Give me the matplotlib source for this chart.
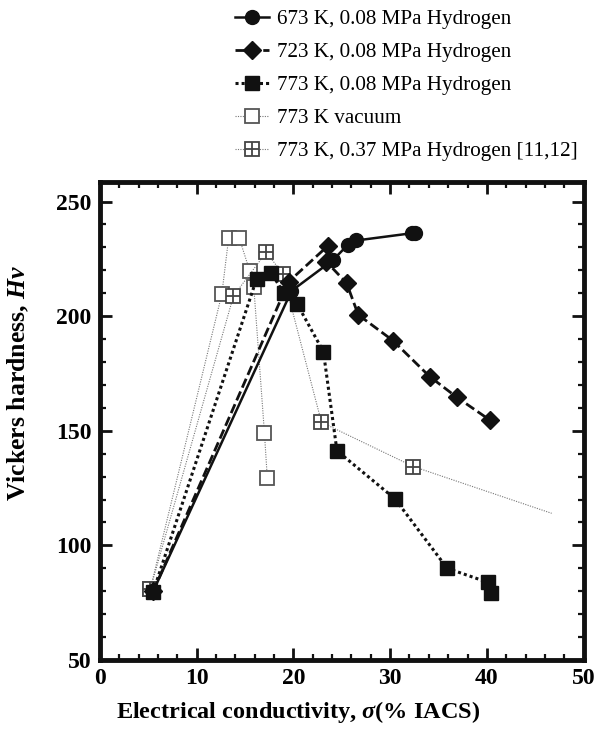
import matplotlib
matplotlib.use("Agg")
import matplotlib.pyplot as plt
from matplotlib.ticker import MultipleLocator

plt.rcParams["font.family"] = ["Liberation Serif", "DejaVu Serif"]
plt.rcParams["mathtext.fontset"] = "custom"
plt.rcParams["mathtext.it"] = "Liberation Serif:bold:italic"
plt.rcParams["mathtext.rm"] = "Liberation Serif:bold"

# 673 K, 0.08 MPa hydrogen
x_673 = [5.5, 19.8, 24.1, 25.6, 26.5, 32.3, 32.6]
y_673 = [80, 211, 224.5, 231, 233, 236.2, 236.4]
# 723 K, 0.08 MPa hydrogen
x_723 = [5.5, 19.5, 23.6, 23.4, 25.5, 26.7, 30.3, 34.1, 36.9, 40.3]
y_723 = [80, 215, 230.8, 223.8, 214.4, 200.6, 189.3, 173.6, 164.6, 154.7]
# 773 K, 0.08 MPa hydrogen
x_773 = [5.5, 16.2, 17.7, 19.0, 20.4, 23.1, 24.5, 30.5, 35.9, 40.1, 40.4]
y_773 = [79.8, 216.4, 219.0, 210.0, 205.2, 184.5, 141.3, 120.3, 90.0, 83.9, 79.1]
# 773 K vacuum
x_vac = [5.2, 12.6, 13.3, 14.4, 15.5, 15.9, 17.0, 17.3]
y_vac = [80.9, 209.7, 234.0, 234.0, 219.5, 212.9, 149.2, 129.3]
# 773 K, 0.37 MPa hydrogen [11,12]
x_ref = [5.2, 13.8, 17.2, 18.9, 22.9, 32.4, 46.7]
y_ref = [80.9, 208.8, 227.9, 218.4, 153.7, 134.4, 114.0]

labels = ["673 K, 0.08 MPa Hydrogen", "723 K, 0.08 MPa Hydrogen",
          "773 K, 0.08 MPa Hydrogen", "773 K vacuum",
          "773 K, 0.37 MPa Hydrogen [11,12]"]

fig = plt.figure(figsize=(5.97, 7.34), dpi=100)
ax = fig.add_axes([0.1675, 0.1008, 0.81, 0.6512])

grey = "#777777"
h_vac, = ax.plot(x_vac, y_vac, ls=(0, (1, 1.2)), lw=0.8, color=grey,
                 marker="s", ms=10, mfc="white", mec="#555555", mew=1.3, zorder=2)
h_ref_line, = ax.plot(x_ref, y_ref, ls=(0, (1, 1.2)), lw=0.8, color=grey,
                      marker="s", ms=10, mfc="white", mec="#444444", mew=1.3,
                      markevery=slice(0, -1), zorder=2)
h_ref_cross, = ax.plot(x_ref, y_ref, ls="none", marker="+", ms=10, mec="#444444",
                       mew=1.3, markevery=slice(0, -1), zorder=2)
h_773, = ax.plot(x_773, y_773, ls=(0, (1, 1)), lw=2.2, color="#111111",
                 marker="s", ms=10, mfc="#111111", mec="#111111", zorder=3)
h_723, = ax.plot(x_723, y_723, ls=(0, (3.5, 1.5)), lw=2.0, color="#111111",
                 marker="D", ms=9, mfc="#111111", mec="#111111", zorder=4)
h_673, = ax.plot(x_673, y_673, ls="-", lw=1.8, color="#111111",
                 marker="o", ms=10, mfc="#111111", mec="#111111", zorder=5)

ax.set_xlim(0, 50)
ax.set_ylim(50, 258.5)
ax.xaxis.set_major_locator(MultipleLocator(10))
ax.xaxis.set_minor_locator(MultipleLocator(2))
ax.yaxis.set_major_locator(MultipleLocator(50))
ax.yaxis.set_minor_locator(MultipleLocator(10))
ax.tick_params(which="both", direction="in", top=True, right=True,
               labelsize=17, pad=6, color="#111111")
ax.tick_params(which="major", length=8.5, width=2)
ax.tick_params(which="minor", length=4.5, width=1.6)
for lab in ax.get_xticklabels() + ax.get_yticklabels():
    lab.set_fontweight("bold")
for sp in ax.spines.values():
    sp.set_linewidth(3.5)
    sp.set_color("#111111")

fig.text(0.5, 0.03, r"Electrical conductivity, $\sigma$(% IACS)",
         ha="center", va="center", fontsize=17.5, fontweight="bold")
fig.text(0.03, 0.478, r"Vickers hardness, $Hv$", rotation=90,
         ha="center", va="center", fontsize=18.5, fontweight="bold")

fig.legend([h_673, h_723, h_773, h_vac, (h_ref_line, h_ref_cross)], labels,
           loc="upper left", bbox_to_anchor=(0.385, 0.994), frameon=False,
           fontsize=15.2, handlelength=1.6, handletextpad=0.4,
           labelspacing=0.62, borderaxespad=0.0, borderpad=0.25)

fig.savefig("out.png", dpi=100)
